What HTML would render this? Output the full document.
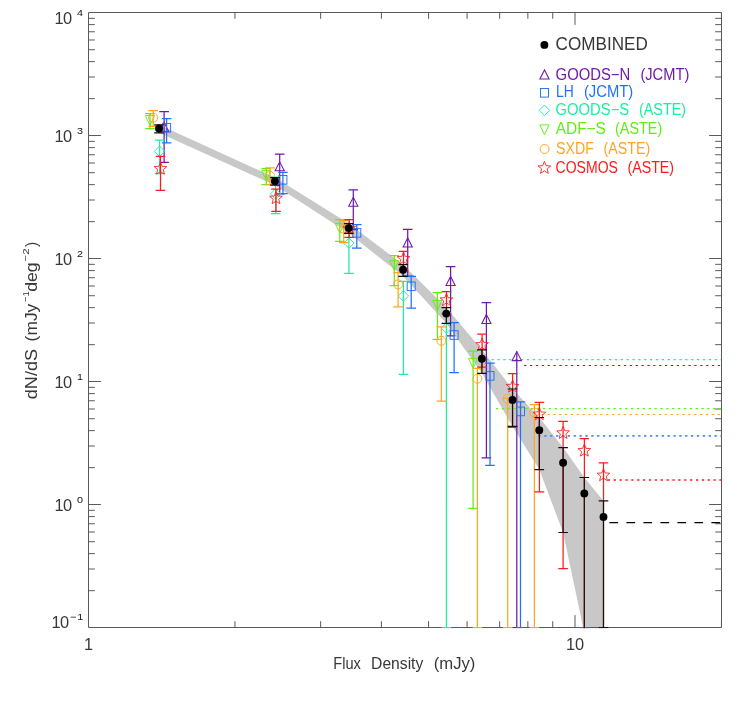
<!DOCTYPE html>
<html><head><meta charset="utf-8"><title>Number counts</title><style>html,body{margin:0;padding:0;background:#fff}body{width:736px;height:713px;overflow:hidden}svg{will-change:transform;transform:translateZ(0)}</style></head>
<body>
<svg width="736" height="713" viewBox="0 0 736 713" style="display:block;font-family:'Liberation Sans',sans-serif">
<rect width="736" height="713" fill="#fff"/>
<defs><clipPath id="cp"><rect x="88.5" y="12.5" width="633.0" height="615.75"/></clipPath></defs>
<g clip-path="url(#cp)">
<polygon fill="#c8c8c8" points="159.0,124.8 274.9,177.6 348.8,223.6 403.1,264.7 446.3,307.6 481.9,349.8 512.5,389.0 539.3,417.5 563.1,447.6 584.3,477.5 603.5,500.9 603.5,633.0 584.3,633.0 563.1,532.5 539.3,469.6 512.5,426.4 481.9,373.3 446.3,323.3 403.1,276.3 348.8,233.3 274.9,185.2 159.0,132.8"/>
</g>
<path d="M88.5 12.5H721.5V627.5H88.5ZM88.5 590.67h6.3M721.5 590.67h-6.3M88.5 569.01h6.3M721.5 569.01h-6.3M88.5 553.65h6.3M721.5 553.65h-6.3M88.5 541.73h6.3M721.5 541.73h-6.3M88.5 531.99h6.3M721.5 531.99h-6.3M88.5 523.75h6.3M721.5 523.75h-6.3M88.5 516.62h6.3M721.5 516.62h-6.3M88.5 510.33h6.3M721.5 510.33h-6.3M88.5 504.50h12.4M721.5 504.50h-12.4M88.5 467.67h6.3M721.5 467.67h-6.3M88.5 446.01h6.3M721.5 446.01h-6.3M88.5 430.65h6.3M721.5 430.65h-6.3M88.5 418.73h6.3M721.5 418.73h-6.3M88.5 408.99h6.3M721.5 408.99h-6.3M88.5 400.75h6.3M721.5 400.75h-6.3M88.5 393.62h6.3M721.5 393.62h-6.3M88.5 387.33h6.3M721.5 387.33h-6.3M88.5 381.50h12.4M721.5 381.50h-12.4M88.5 344.67h6.3M721.5 344.67h-6.3M88.5 323.01h6.3M721.5 323.01h-6.3M88.5 307.65h6.3M721.5 307.65h-6.3M88.5 295.73h6.3M721.5 295.73h-6.3M88.5 285.99h6.3M721.5 285.99h-6.3M88.5 277.75h6.3M721.5 277.75h-6.3M88.5 270.62h6.3M721.5 270.62h-6.3M88.5 264.33h6.3M721.5 264.33h-6.3M88.5 258.50h12.4M721.5 258.50h-12.4M88.5 221.67h6.3M721.5 221.67h-6.3M88.5 200.01h6.3M721.5 200.01h-6.3M88.5 184.65h6.3M721.5 184.65h-6.3M88.5 172.73h6.3M721.5 172.73h-6.3M88.5 162.99h6.3M721.5 162.99h-6.3M88.5 154.75h6.3M721.5 154.75h-6.3M88.5 147.62h6.3M721.5 147.62h-6.3M88.5 141.33h6.3M721.5 141.33h-6.3M88.5 135.50h12.4M721.5 135.50h-12.4M88.5 98.67h6.3M721.5 98.67h-6.3M88.5 77.01h6.3M721.5 77.01h-6.3M88.5 61.65h6.3M721.5 61.65h-6.3M88.5 49.73h6.3M721.5 49.73h-6.3M88.5 39.99h6.3M721.5 39.99h-6.3M88.5 31.75h6.3M721.5 31.75h-6.3M88.5 24.62h6.3M721.5 24.62h-6.3M88.5 18.33h6.3M721.5 18.33h-6.3M234.95 627.5v-6.3M234.95 12.5v6.3M320.62 627.5v-6.3M320.62 12.5v6.3M381.40 627.5v-6.3M381.40 12.5v6.3M428.55 627.5v-6.3M428.55 12.5v6.3M467.07 627.5v-6.3M467.07 12.5v6.3M499.64 627.5v-6.3M499.64 12.5v6.3M527.85 627.5v-6.3M527.85 12.5v6.3M552.74 627.5v-6.3M552.74 12.5v6.3M575.00 627.5v-12.4M575.00 12.5v12.4M721.45 627.5v-6.3M721.45 12.5v6.3" stroke="#5a5a5a" stroke-width="1" fill="none"/>
<g clip-path="url(#cp)">
<path d="M479.8 359.6H721.5" stroke="#19f0a0" stroke-width="1.2" stroke-dasharray="2.3 3.57" fill="none"/>
<path d="M524.1 365.5H721.5" stroke="#7118ac" stroke-width="1.2" stroke-dasharray="2.3 3.57" fill="none"/>
<path d="M496.0 408.6H721.5" stroke="#62ee10" stroke-width="1.2" stroke-dasharray="2.3 3.57" fill="none"/>
<path d="M541.5 414.5H721.5" stroke="#ffa51e" stroke-width="1.2" stroke-dasharray="2.3 3.57" fill="none"/>
<path d="M538.4 435.9H721.5" stroke="#4a8aff" stroke-width="1.9" stroke-dasharray="2.3 3.57" fill="none"/>
<path d="M607.8 480.0H721.5" stroke="#ff1a1a" stroke-width="1.4" stroke-dasharray="2.3 3.57" fill="none"/>
<path d="M164.1 111.6V162.4M159.3 111.6H168.9M159.3 162.4H168.9" stroke="#7118ac" stroke-width="1.25" fill="none"/>
<path d="M159.5 131.4L164.1 122.4L168.7 131.4Z" stroke="#7118ac" stroke-width="1.05" fill="none"/>
<path d="M279.7 154.0V193.8M274.9 154.0H284.5M274.9 193.8H284.5" stroke="#7118ac" stroke-width="1.25" fill="none"/>
<path d="M275.1 170.8L279.7 161.8L284.3 170.8Z" stroke="#7118ac" stroke-width="1.05" fill="none"/>
<path d="M353.3 189.9V229.6M348.5 189.9H358.1M348.5 229.6H358.1" stroke="#7118ac" stroke-width="1.25" fill="none"/>
<path d="M348.7 206.3L353.3 197.3L357.9 206.3Z" stroke="#7118ac" stroke-width="1.05" fill="none"/>
<path d="M407.7 229.4V276.0M402.9 229.4H412.5M402.9 276.0H412.5" stroke="#7118ac" stroke-width="1.25" fill="none"/>
<path d="M403.1 247.0L407.7 238.0L412.3 247.0Z" stroke="#7118ac" stroke-width="1.05" fill="none"/>
<path d="M450.6 266.5V335.8M445.8 266.5H455.4M445.8 335.8H455.4" stroke="#7118ac" stroke-width="1.25" fill="none"/>
<path d="M446.0 285.5L450.6 276.5L455.2 285.5Z" stroke="#7118ac" stroke-width="1.05" fill="none"/>
<path d="M486.4 302.6V457.8M481.6 302.6H491.2M481.6 457.8H491.2" stroke="#7118ac" stroke-width="1.25" fill="none"/>
<path d="M481.8 323.5L486.4 314.5L491.0 323.5Z" stroke="#7118ac" stroke-width="1.05" fill="none"/>
<path d="M516.8 351.4V627.5M512.0 627.5H521.6" stroke="#7118ac" stroke-width="1.25" fill="none"/>
<path d="M512.2 360.6L516.8 351.6L521.4 360.6Z" stroke="#7118ac" stroke-width="1.05" fill="none"/>
<path d="M166.6 118.5V142.8M161.8 118.5H171.4M161.8 142.8H171.4" stroke="#2070ff" stroke-width="1.25" fill="none"/>
<rect x="162.6" y="123.5" width="8.0" height="8.6" stroke="#2070ff" stroke-width="0.95" fill="none"/>
<path d="M282.9 172.3V193.6M278.1 172.3H287.7M278.1 193.6H287.7" stroke="#2070ff" stroke-width="1.25" fill="none"/>
<rect x="278.9" y="175.5" width="8.0" height="8.6" stroke="#2070ff" stroke-width="0.95" fill="none"/>
<path d="M356.8 224.6V248.0M352.0 224.6H361.6M352.0 248.0H361.6" stroke="#2070ff" stroke-width="1.25" fill="none"/>
<rect x="352.8" y="228.6" width="8.0" height="8.6" stroke="#2070ff" stroke-width="0.95" fill="none"/>
<path d="M411.2 276.3V308.0M406.4 276.3H416.0M406.4 308.0H416.0" stroke="#2070ff" stroke-width="1.25" fill="none"/>
<rect x="407.2" y="282.0" width="8.0" height="8.6" stroke="#2070ff" stroke-width="0.95" fill="none"/>
<path d="M454.1 322.6V372.6M449.3 322.6H458.9M449.3 372.6H458.9" stroke="#2070ff" stroke-width="1.25" fill="none"/>
<rect x="450.1" y="330.7" width="8.0" height="8.6" stroke="#2070ff" stroke-width="0.95" fill="none"/>
<path d="M490.0 363.2V465.4M485.2 363.2H494.8M485.2 465.4H494.8" stroke="#2070ff" stroke-width="1.25" fill="none"/>
<rect x="486.0" y="371.6" width="8.0" height="8.6" stroke="#2070ff" stroke-width="0.95" fill="none"/>
<path d="M520.5 401.8V627.5M515.8 401.8H525.3M515.8 627.5H525.3" stroke="#2070ff" stroke-width="1.25" fill="none"/>
<rect x="516.5" y="407.1" width="8.0" height="8.6" stroke="#2070ff" stroke-width="0.95" fill="none"/>
<path d="M159.6 140.0V173.6M154.8 140.0H164.4M154.8 173.6H164.4" stroke="#19f0a0" stroke-width="1.25" fill="none"/>
<path d="M154.4 151.3L159.6 146.1L164.8 151.3L159.6 156.5Z" stroke="#19f0a0" stroke-width="0.95" fill="none"/>
<path d="M275.6 177.0V213.7M270.8 177.0H280.4M270.8 213.7H280.4" stroke="#19f0a0" stroke-width="1.25" fill="none"/>
<path d="M270.4 194.0L275.6 188.8L280.8 194.0L275.6 199.2Z" stroke="#19f0a0" stroke-width="0.95" fill="none"/>
<path d="M348.9 228.0V273.3M344.1 228.0H353.7M344.1 273.3H353.7" stroke="#19f0a0" stroke-width="1.25" fill="none"/>
<path d="M343.7 243.1L348.9 237.9L354.1 243.1L348.9 248.3Z" stroke="#19f0a0" stroke-width="0.95" fill="none"/>
<path d="M403.4 281.4V374.3M398.6 281.4H408.2M398.6 374.3H408.2" stroke="#19f0a0" stroke-width="1.25" fill="none"/>
<path d="M398.2 296.0L403.4 290.8L408.6 296.0L403.4 301.2Z" stroke="#19f0a0" stroke-width="0.95" fill="none"/>
<path d="M446.4 313.0V627.5M441.6 313.0H451.2M441.6 627.5H451.2" stroke="#19f0a0" stroke-width="1.25" fill="none"/>
<path d="M441.2 328.0L446.4 322.8L451.6 328.0L446.4 333.2Z" stroke="#19f0a0" stroke-width="0.95" fill="none"/>
<path d="M150.0 113.5V128.5M145.2 113.5H154.8M145.2 128.5H154.8" stroke="#62ee10" stroke-width="1.25" fill="none"/>
<path d="M145.4 115.6L150.0 125.4L154.6 115.6Z" stroke="#62ee10" stroke-width="0.95" fill="none"/>
<path d="M266.3 168.6V184.5M261.5 168.6H271.1M261.5 184.5H271.1" stroke="#62ee10" stroke-width="1.25" fill="none"/>
<path d="M261.7 170.7L266.3 180.5L270.9 170.7Z" stroke="#62ee10" stroke-width="0.95" fill="none"/>
<path d="M339.8 219.5V241.4M335.0 219.5H344.6M335.0 241.4H344.6" stroke="#62ee10" stroke-width="1.25" fill="none"/>
<path d="M335.2 223.4L339.8 233.2L344.4 223.4Z" stroke="#62ee10" stroke-width="0.95" fill="none"/>
<path d="M394.3 255.6V285.7M389.5 255.6H399.1M389.5 285.7H399.1" stroke="#62ee10" stroke-width="1.25" fill="none"/>
<path d="M389.7 260.7L394.3 270.5L398.9 260.7Z" stroke="#62ee10" stroke-width="0.95" fill="none"/>
<path d="M437.4 292.6V339.3M432.6 292.6H442.2M432.6 339.3H442.2" stroke="#62ee10" stroke-width="1.25" fill="none"/>
<path d="M432.8 300.4L437.4 310.2L442.0 300.4Z" stroke="#62ee10" stroke-width="0.95" fill="none"/>
<path d="M473.1 351.1V508.3M468.3 351.1H477.9M468.3 508.3H477.9" stroke="#62ee10" stroke-width="1.25" fill="none"/>
<path d="M468.5 358.3L473.1 368.1L477.7 358.3Z" stroke="#62ee10" stroke-width="0.95" fill="none"/>
<path d="M153.2 110.7V126.3M148.4 110.7H158.0M148.4 126.3H158.0" stroke="#ffa51e" stroke-width="1.25" fill="none"/>
<circle cx="153.2" cy="117.8" r="4.5" stroke="#ffa51e" stroke-width="0.95" fill="none"/>
<path d="M270.0 167.8V184.5M265.2 167.8H274.8M265.2 184.5H274.8" stroke="#ffa51e" stroke-width="1.25" fill="none"/>
<circle cx="270.0" cy="175.9" r="4.5" stroke="#ffa51e" stroke-width="0.95" fill="none"/>
<path d="M343.7 220.7V242.5M338.9 220.7H348.5M338.9 242.5H348.5" stroke="#ffa51e" stroke-width="1.25" fill="none"/>
<circle cx="343.7" cy="228.6" r="4.5" stroke="#ffa51e" stroke-width="0.95" fill="none"/>
<path d="M398.1 272.6V306.8M393.3 272.6H402.9M393.3 306.8H402.9" stroke="#ffa51e" stroke-width="1.25" fill="none"/>
<circle cx="398.1" cy="284.4" r="4.5" stroke="#ffa51e" stroke-width="0.95" fill="none"/>
<path d="M441.4 326.8V401.0M436.6 326.8H446.2M436.6 401.0H446.2" stroke="#ffa51e" stroke-width="1.25" fill="none"/>
<circle cx="441.4" cy="340.8" r="4.5" stroke="#ffa51e" stroke-width="0.95" fill="none"/>
<path d="M477.4 368.3V627.5M472.6 368.3H482.2M472.6 627.5H482.2" stroke="#ffa51e" stroke-width="1.25" fill="none"/>
<circle cx="477.4" cy="378.7" r="4.5" stroke="#ffa51e" stroke-width="0.95" fill="none"/>
<path d="M507.7 398.0V627.5M502.9 398.0H512.5M502.9 627.5H512.5" stroke="#ffa51e" stroke-width="1.25" fill="none"/>
<circle cx="507.7" cy="399.0" r="4.5" stroke="#ffa51e" stroke-width="0.95" fill="none"/>
<path d="M534.4 404.6V627.5M529.6 404.6H539.2M529.6 627.5H539.2" stroke="#ffa51e" stroke-width="1.25" fill="none"/>
<circle cx="534.4" cy="412.5" r="4.5" stroke="#ffa51e" stroke-width="0.95" fill="none"/>
<path d="M160.5 156.4V190.3M155.7 156.4H165.3M155.7 190.3H165.3" stroke="#ff1a1a" stroke-width="1.25" fill="none"/>
<path d="M160.50 162.00L162.20 166.35L166.87 166.63L163.26 169.60L164.44 174.12L160.50 171.60L156.56 174.12L157.74 169.60L154.13 166.63L158.80 166.35Z" stroke="#ff1a1a" stroke-width="0.85" fill="none"/>
<path d="M276.0 189.1V211.4M271.2 189.1H280.8M271.2 211.4H280.8" stroke="#ff1a1a" stroke-width="1.25" fill="none"/>
<path d="M276.00 191.60L277.70 195.95L282.37 196.23L278.76 199.20L279.94 203.72L276.00 201.20L272.06 203.72L273.24 199.20L269.63 196.23L274.30 195.95Z" stroke="#ff1a1a" stroke-width="0.85" fill="none"/>
<path d="M349.2 219.5V237.4M344.4 219.5H354.0M344.4 237.4H354.0" stroke="#ff1a1a" stroke-width="1.25" fill="none"/>
<path d="M349.20 221.80L350.90 226.15L355.57 226.43L351.96 229.40L353.14 233.92L349.20 231.40L345.26 233.92L346.44 229.40L342.83 226.43L347.50 226.15Z" stroke="#ff1a1a" stroke-width="0.85" fill="none"/>
<path d="M403.5 251.3V269.8M398.7 251.3H408.3M398.7 269.8H408.3" stroke="#ff1a1a" stroke-width="1.25" fill="none"/>
<path d="M403.50 252.00L405.20 256.35L409.87 256.63L406.26 259.60L407.44 264.12L403.50 261.60L399.56 264.12L400.74 259.60L397.13 256.63L401.80 256.35Z" stroke="#ff1a1a" stroke-width="0.85" fill="none"/>
<path d="M446.5 291.5V314.2M441.7 291.5H451.3M441.7 314.2H451.3" stroke="#ff1a1a" stroke-width="1.25" fill="none"/>
<path d="M446.50 293.30L448.20 297.65L452.87 297.93L449.26 300.90L450.44 305.42L446.50 302.90L442.56 305.42L443.74 300.90L440.13 297.93L444.80 297.65Z" stroke="#ff1a1a" stroke-width="0.85" fill="none"/>
<path d="M482.1 334.1V367.1M477.3 334.1H486.9M477.3 367.1H486.9" stroke="#ff1a1a" stroke-width="1.25" fill="none"/>
<path d="M482.10 338.00L483.80 342.35L488.47 342.63L484.86 345.60L486.04 350.12L482.10 347.60L478.16 350.12L479.34 345.60L475.73 342.63L480.40 342.35Z" stroke="#ff1a1a" stroke-width="0.85" fill="none"/>
<path d="M512.6 373.6V427.4M507.8 373.6H517.4M507.8 427.4H517.4" stroke="#ff1a1a" stroke-width="1.25" fill="none"/>
<path d="M512.60 379.90L514.30 384.25L518.97 384.53L515.36 387.50L516.54 392.02L512.60 389.50L508.66 392.02L509.84 387.50L506.23 384.53L510.90 384.25Z" stroke="#ff1a1a" stroke-width="0.85" fill="none"/>
<path d="M539.4 402.4V491.9M534.6 402.4H544.2M534.6 491.9H544.2" stroke="#ff1a1a" stroke-width="1.25" fill="none"/>
<path d="M539.40 407.60L541.10 411.95L545.77 412.23L542.16 415.20L543.34 419.72L539.40 417.20L535.46 419.72L536.64 415.20L533.03 412.23L537.70 411.95Z" stroke="#ff1a1a" stroke-width="0.85" fill="none"/>
<path d="M563.1 421.4V568.5M558.3 421.4H567.9M558.3 568.5H567.9" stroke="#ff1a1a" stroke-width="1.25" fill="none"/>
<path d="M563.10 426.30L564.80 430.65L569.47 430.93L565.86 433.90L567.04 438.42L563.10 435.90L559.16 438.42L560.34 433.90L556.73 430.93L561.40 430.65Z" stroke="#ff1a1a" stroke-width="0.85" fill="none"/>
<path d="M584.4 438.5V627.5M579.6 438.5H589.1M579.6 627.5H589.1" stroke="#ff1a1a" stroke-width="1.25" fill="none"/>
<path d="M584.35 444.00L586.05 448.35L590.72 448.63L587.11 451.60L588.29 456.12L584.35 453.60L580.41 456.12L581.59 451.60L577.98 448.63L582.65 448.35Z" stroke="#ff1a1a" stroke-width="0.85" fill="none"/>
<path d="M603.5 462.9V627.5M598.7 462.9H608.3M598.7 627.5H608.3" stroke="#ff1a1a" stroke-width="1.25" fill="none"/>
<path d="M603.50 468.60L605.20 472.95L609.87 473.23L606.26 476.20L607.44 480.72L603.50 478.20L599.56 480.72L600.74 476.20L597.13 473.23L601.80 472.95Z" stroke="#ff1a1a" stroke-width="0.85" fill="none"/>
<path d="M609.4 522.6H721.5" stroke="#000" stroke-width="1.2" stroke-dasharray="8.7 8.3" fill="none"/>
<path d="M159.0 124.8V132.8M154.2 124.8H163.8M154.2 132.8H163.8" stroke="#111" stroke-width="1.2" fill="none"/>
<circle cx="159.0" cy="128.5" r="3.95" fill="#000"/>
<path d="M274.9 177.6V185.2M270.1 177.6H279.7M270.1 185.2H279.7" stroke="#111" stroke-width="1.2" fill="none"/>
<circle cx="274.9" cy="181.3" r="3.95" fill="#000"/>
<path d="M348.8 223.6V233.3M344.0 223.6H353.6M344.0 233.3H353.6" stroke="#111" stroke-width="1.2" fill="none"/>
<circle cx="348.8" cy="228.1" r="3.95" fill="#000"/>
<path d="M403.1 264.7V276.3M398.3 264.7H407.9M398.3 276.3H407.9" stroke="#111" stroke-width="1.2" fill="none"/>
<circle cx="403.1" cy="269.8" r="3.95" fill="#000"/>
<path d="M446.3 307.6V323.3M441.5 307.6H451.1M441.5 323.3H451.1" stroke="#111" stroke-width="1.2" fill="none"/>
<circle cx="446.3" cy="313.6" r="3.95" fill="#000"/>
<path d="M481.9 349.8V373.3M477.1 349.8H486.7M477.1 373.3H486.7" stroke="#111" stroke-width="1.2" fill="none"/>
<circle cx="481.9" cy="358.7" r="3.95" fill="#000"/>
<path d="M512.5 389.0V426.4M507.7 389.0H517.3M507.7 426.4H517.3" stroke="#111" stroke-width="1.2" fill="none"/>
<circle cx="512.5" cy="399.9" r="3.95" fill="#000"/>
<path d="M539.3 417.5V469.6M534.5 417.5H544.1M534.5 469.6H544.1" stroke="#111" stroke-width="1.2" fill="none"/>
<circle cx="539.3" cy="430.2" r="3.95" fill="#000"/>
<path d="M563.1 447.6V532.5M558.3 447.6H567.9M558.3 532.5H567.9" stroke="#111" stroke-width="1.2" fill="none"/>
<circle cx="563.1" cy="462.8" r="3.95" fill="#000"/>
<path d="M584.3 477.5V640.0M579.5 477.5H589.1M579.5 640.0H589.1" stroke="#111" stroke-width="1.2" fill="none"/>
<circle cx="584.3" cy="493.5" r="3.95" fill="#000"/>
<path d="M603.5 500.9V627.5M598.7 500.9H608.3M598.7 627.5H608.3" stroke="#111" stroke-width="1.2" fill="none"/>
<circle cx="603.5" cy="516.9" r="3.95" fill="#000"/>
</g>
<text x="54.4" y="23.6" font-size="16.4" fill="#383838" textLength="17.6" lengthAdjust="spacing">10</text>
<text x="77.0" y="15.6" font-size="9.3" fill="#111" textLength="6" lengthAdjust="spacingAndGlyphs">4</text>
<text x="54.4" y="142.0" font-size="16.4" fill="#383838" textLength="17.6" lengthAdjust="spacing">10</text>
<text x="77.0" y="134.0" font-size="9.3" fill="#111" textLength="6" lengthAdjust="spacingAndGlyphs">3</text>
<text x="54.4" y="264.8" font-size="16.4" fill="#383838" textLength="17.6" lengthAdjust="spacing">10</text>
<text x="77.0" y="256.8" font-size="9.3" fill="#111" textLength="6" lengthAdjust="spacingAndGlyphs">2</text>
<text x="54.4" y="387.8" font-size="16.4" fill="#383838" textLength="17.6" lengthAdjust="spacing">10</text>
<text x="77.0" y="379.8" font-size="9.3" fill="#111" textLength="6" lengthAdjust="spacingAndGlyphs">1</text>
<text x="54.4" y="510.7" font-size="16.4" fill="#383838" textLength="17.6" lengthAdjust="spacing">10</text>
<text x="77.0" y="502.7" font-size="9.3" fill="#111" textLength="6" lengthAdjust="spacingAndGlyphs">0</text>
<text x="51.5" y="627.6" font-size="16.4" fill="#383838" textLength="17.6" lengthAdjust="spacing">10</text>
<path d="M70.6 617.2H76" stroke="#383838" stroke-width="0.9"/>
<text x="77.2" y="619.9" font-size="9.3" fill="#111" textLength="6" lengthAdjust="spacingAndGlyphs">1</text>
<text x="84.0" y="649.7" font-size="16.4" fill="#383838">1</text>
<text x="565.9" y="649.7" font-size="16.4" fill="#383838" textLength="18.2" lengthAdjust="spacing">10</text>
<text x="333.3" y="668.9" font-size="15.8" fill="#383838" textLength="27.6" lengthAdjust="spacingAndGlyphs">Flux</text>
<text x="371.1" y="668.9" font-size="15.8" fill="#383838" textLength="52.2" lengthAdjust="spacingAndGlyphs">Density</text>
<text x="433.7" y="668.9" font-size="15.8" fill="#383838" textLength="41.7" lengthAdjust="spacingAndGlyphs">(mJy)</text>
<g transform="translate(37 398.6) rotate(-90)" font-size="15.8" fill="#383838">
<text x="-0.6" y="0" textLength="50.3" lengthAdjust="spacingAndGlyphs">dN/dS</text>
<text x="57.2" y="0" textLength="37.7" lengthAdjust="spacingAndGlyphs">(mJy</text>
<text x="96.7" y="-8.3" font-size="9.5" textLength="10.8" lengthAdjust="spacingAndGlyphs">−1</text>
<text x="106.8" y="0" textLength="29.5" lengthAdjust="spacingAndGlyphs">deg</text>
<text x="137.1" y="-8.3" font-size="9.5" textLength="13.0" lengthAdjust="spacingAndGlyphs">−2</text>
<text x="151.6" y="0">)</text>
</g>
<circle cx="544.4" cy="44.9" r="3.95" fill="#000"/>
<text x="555.6" y="49.5" font-size="18.6" fill="#383838" textLength="92.2" lengthAdjust="spacingAndGlyphs">COMBINED</text>
<path d="M539.9 79.0L544.5 70.0L549.1 79.0Z" stroke="#7118ac" stroke-width="1.05" fill="none"/>
<text x="555.6" y="79.6" font-size="15.8" fill="#7118ac" textLength="74.6" lengthAdjust="spacingAndGlyphs">GOODS−N</text>
<text x="640.4" y="79.6" font-size="15.8" fill="#7118ac" textLength="48.9" lengthAdjust="spacingAndGlyphs">(JCMT)</text>
<rect x="540.5" y="88.5" width="8.0" height="8.6" stroke="#2070ff" stroke-width="0.95" fill="none"/>
<text x="556.1" y="97.0" font-size="15.8" fill="#2070ff" textLength="17.8" lengthAdjust="spacingAndGlyphs">LH</text>
<text x="583.9" y="97.0" font-size="15.8" fill="#2070ff" textLength="49.4" lengthAdjust="spacingAndGlyphs">(JCMT)</text>
<path d="M539.2 110.3L544.4 105.1L549.6 110.3L544.4 115.5Z" stroke="#19f0a0" stroke-width="0.95" fill="none"/>
<text x="555.6" y="114.8" font-size="15.8" fill="#19f0a0" textLength="73.6" lengthAdjust="spacingAndGlyphs">GOODS−S</text>
<text x="638.9" y="114.8" font-size="15.8" fill="#19f0a0" textLength="47.2" lengthAdjust="spacingAndGlyphs">(ASTE)</text>
<path d="M539.9 124.9L544.5 134.7L549.1 124.9Z" stroke="#62ee10" stroke-width="0.95" fill="none"/>
<text x="555.7" y="133.9" font-size="15.8" fill="#62ee10" textLength="50.2" lengthAdjust="spacingAndGlyphs">ADF−S</text>
<text x="615.0" y="133.9" font-size="15.8" fill="#62ee10" textLength="47.2" lengthAdjust="spacingAndGlyphs">(ASTE)</text>
<circle cx="544.6" cy="149.0" r="4.5" stroke="#ffa51e" stroke-width="0.95" fill="none"/>
<text x="556.1" y="153.7" font-size="15.8" fill="#ffa51e" textLength="37.8" lengthAdjust="spacingAndGlyphs">SXDF</text>
<text x="603.5" y="153.7" font-size="15.8" fill="#ffa51e" textLength="46.7" lengthAdjust="spacingAndGlyphs">(ASTE)</text>
<path d="M544.40 161.30L546.10 165.65L550.77 165.93L547.16 168.90L548.34 173.42L544.40 170.90L540.46 173.42L541.64 168.90L538.03 165.93L542.70 165.65Z" stroke="#ff1a1a" stroke-width="0.85" fill="none"/>
<text x="555.6" y="172.6" font-size="15.8" fill="#ff1a1a" textLength="62.3" lengthAdjust="spacingAndGlyphs">COSMOS</text>
<text x="627.4" y="172.6" font-size="15.8" fill="#ff1a1a" textLength="46.7" lengthAdjust="spacingAndGlyphs">(ASTE)</text>
</svg>
</body></html>
